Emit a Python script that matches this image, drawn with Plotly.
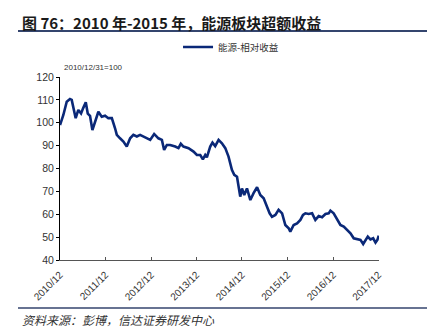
import plotly.graph_objects as go

dates = ["2010-12-31","2011-01-27","2011-02-23","2011-03-21","2011-04-04","2011-04-17","2011-05-06","2011-05-27",
"2011-06-18","2011-07-06","2011-07-26","2011-08-11","2011-08-29","2011-09-17","2011-10-08","2011-11-04",
"2011-12-01","2011-12-28","2012-01-23","2012-02-20","2012-03-17","2012-03-31","2012-04-26","2012-05-23",
"2012-06-19","2012-07-16","2012-08-11","2012-09-08","2012-10-04","2012-10-31","2012-12-10","2012-12-24",
"2013-01-25","2013-02-28","2013-03-28","2013-04-15","2013-05-07","2013-06-02","2013-07-13","2013-08-08",
"2013-08-27","2013-09-17","2013-10-28","2013-12-07","2014-01-03","2014-01-30","2014-02-20","2014-03-11",
"2014-03-24","2014-04-20","2014-05-08","2014-05-30","2014-06-26","2014-07-23","2014-08-19","2014-09-14",
"2014-10-11","2014-10-30","2014-11-21","2014-12-04","2014-12-17","2014-12-31","2015-01-18","2015-02-09",
"2015-03-08","2015-04-03","2015-05-01","2015-05-27","2015-06-23","2015-07-20","2015-08-10","2015-08-29",
"2015-09-25","2015-10-21","2015-11-18","2015-12-14","2016-01-10","2016-01-23","2016-02-19","2016-03-17",
"2016-04-13","2016-05-04","2016-05-23","2016-06-18","2016-07-16","2016-08-11","2016-09-07","2016-10-04",
"2016-10-31","2016-11-26","2016-12-10","2017-01-05","2017-02-02","2017-02-28","2017-03-27","2017-04-23",
"2017-05-20","2017-06-15","2017-07-12","2017-08-08","2017-08-30","2017-09-17","2017-10-06","2017-10-27",
"2017-11-18","2017-12-07","2017-12-22","2018-01-02"]
values = [99,103.4,109.2,110.4,110,106.5,102,105.6,
104.1,106.5,109,104,103,96.8,100.5,104.8,
102.6,103.1,102,102,97.6,94.7,93.2,91.8,
89.6,93.2,94.7,94,94.7,94,93.2,92.5,
95.1,93.2,92.5,88.1,90.3,90.3,89.6,88.9,
90.8,89.6,88.9,87.4,85.9,85.9,84,85.9,
84.9,89.6,91.3,89.8,92.5,91,88.9,85.2,
79.4,77.2,76.4,72.1,67.7,71.3,68.4,71.3,
66.2,69.2,71.8,68.4,67,63.3,60.4,58.9,
59.7,61.9,60.4,55.3,53.9,52.4,55.3,56,
57.5,59.7,60.4,60.1,60.4,57.5,59.2,58.7,
60.1,60.4,61.6,60.4,57.5,55.3,54.6,53.1,
51.7,49.5,49,48.8,47,48.8,50.2,49,
49.5,47.6,48.8,50.6]

tick_vals = ["2010-12-31","2011-12-31","2012-12-31","2013-12-31","2014-12-31","2015-12-31","2016-12-31","2017-12-31"]
tick_text = ["2010/12","2011/12","2012/12","2013/12","2014/12","2015/12","2016/12","2017/12"]
series_name = "能源-相对收益"
title = "图 76：2010 年-2015 年，能源板块超额收益"
source = "资料来源：彭博，信达证券研发中心"
base_note = "2010/12/31=100"

navy = "#0a2878"
fig = go.Figure()
fig.add_trace(go.Scatter(x=dates, y=values, mode="lines", name=series_name,
                         line=dict(color=navy, width=2.6)))

fig.update_layout(
    width=443, height=335,
    margin=dict(l=60, r=64, t=77, b=75),
    paper_bgcolor="white", plot_bgcolor="white",
    font=dict(family="Liberation Sans, Arial", color="#222"),
    showlegend=True,
    legend=dict(orientation="h", x=0.37, y=1.164, xanchor="left", yanchor="middle",
                font=dict(family="Noto Sans CJK SC", size=9.5, color="#333"),
                bgcolor="rgba(0,0,0,0)", itemwidth=30, tracegroupgap=0),
    xaxis=dict(type="date", range=["2010-12-31", "2018-01-04"], tickvals=tick_vals, ticktext=tick_text,
               tickangle=-45, showgrid=False, zeroline=False, showline=True, linecolor="#555", linewidth=1,
               ticks="inside", ticklen=3, tickcolor="#555", tickfont=dict(size=10, color="#333"),
               ticklabelstandoff=4),
    yaxis=dict(range=[40, 120], tickvals=[40,50,60,70,80,90,100,110,120], showgrid=False, zeroline=False,
               showline=True, linecolor="#000", linewidth=1, ticks="outside", ticklen=3, tickcolor="#000",
               tickfont=dict(size=10.5, color="#333")),
)

fig.add_annotation(xref="paper", yref="paper", x=(20-60)/319, y=(260-22)/183, text="<b>"+title+"</b>",
                   showarrow=False, xanchor="left", yanchor="middle",
                   font=dict(family="Noto Sans CJK SC", size=15, color="#1a1a1a"))
fig.add_annotation(xref="paper", yref="paper", x=(62-60)/319, y=(260-68)/183, text=base_note,
                   showarrow=False, xanchor="left", yanchor="middle",
                   font=dict(family="Liberation Sans", size=8, color="#333"))
fig.add_annotation(xref="paper", yref="paper", x=(20-60)/319, y=(260-319)/183, text="<i>"+source+"</i>",
                   showarrow=False, xanchor="left", yanchor="middle",
                   font=dict(family="Noto Sans CJK SC", size=12, color="#333"))
fig.add_shape(type="line", xref="paper", yref="paper", x0=(18-60)/319, x1=(427-60)/319,
              y0=(260-31)/183, y1=(260-31)/183, line=dict(color="#34456e", width=2))
fig.add_shape(type="line", xref="paper", yref="paper", x0=(18-60)/319, x1=(427-60)/319,
              y0=(260-308)/183, y1=(260-308)/183, line=dict(color="#34456e", width=1.5))

fig.write_html("out.html")
